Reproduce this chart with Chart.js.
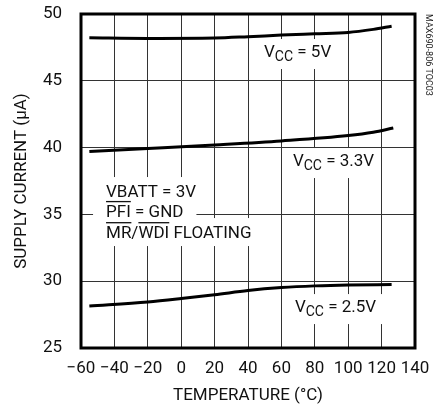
<!DOCTYPE html>
<html>
<head>
<meta charset="utf-8">
<script src="https://cdn.jsdelivr.net/npm/chart.js@4"></script>
<style>
  html, body { margin: 0; padding: 0; background: #fff; }
</style>
</head>
<body>
<canvas id="chart" width="438" height="412"></canvas>
<script>
// temperature (°C) / supply current (µA)
const temps5 = [-55, -20, 20, 40, 60, 80, 100, 115, 126];
const vcc5 = [48.22, 48.17, 48.2, 48.3, 48.42, 48.52, 48.62, 48.85, 49.08];

const temps33 = [-55, -20, 20, 60, 100, 115, 127];
const vcc33 = [39.7, 39.93, 40.2, 40.5, 40.9, 41.15, 41.47];

const temps25 = [-55, -20, 0, 20, 40, 60, 80, 100, 126];
const vcc25 = [28.15, 28.45, 28.7, 28.98, 29.3, 29.52, 29.65, 29.72, 29.75];

const xTicks = [-60, -40, -20, 0, 20, 40, 60, 80, 100, 120, 140];
const yTicks = [25, 30, 35, 40, 45, 50];

// curve labels: "V" + subscript "CC" + rest
const vccLabels = [
  { t: 49.6, v: 46.78, rest: " = 5V" },
  { t: 66.9, v: 38.62, rest: " = 3.3V" },
  { t: 68.1, v: 27.69, rest: " = 2.5V" },
];

// test conditions, [text, overlined]
const noteLines = [
  { v: 36.3, parts: [["VBATT = 3V", false]] },
  { v: 34.81, parts: [["PFI", true], [" = GND", false]] },
  { v: 33.23, parts: [["MR", true], ["/", false], ["WDI", true], [" FLOATING", false]] },
];
const noteT = -45;

const toPoints = (xs, ys) => xs.map((x, i) => ({ x: x, y: ys[i] }));

Chart.defaults.font.family = "Roboto";
Chart.defaults.font.size = 17;
Chart.defaults.color = "#111";

const FONT = "17px Roboto";
const SUB = "14px Roboto";

const textPlugin = {
  id: "texts",
  beforeDatasetsDraw(chart) {
    const ctx = chart.ctx;
    const xs = chart.scales.x, ys = chart.scales.y;
    ctx.save();
    ctx.textBaseline = "alphabetic";
    ctx.textAlign = "left";

    // VCC labels, white box knocks out the grid
    vccLabels.forEach((l) => {
      const x = xs.getPixelForValue(l.t);
      const y = ys.getPixelForValue(l.v);
      ctx.font = FONT;
      const wV = ctx.measureText("V").width;
      const wR = ctx.measureText(l.rest).width;
      ctx.font = SUB;
      const wC = ctx.measureText("CC").width;
      const w = wV + wC + wR;
      ctx.fillStyle = "#fff";
      ctx.fillRect(x - 6, y - 18, w + 12, 30);
      ctx.fillStyle = "#111";
      ctx.font = FONT;
      ctx.fillText("V", x, y);
      ctx.font = SUB;
      ctx.fillText("CC", x + wV, y + 3.5);
      ctx.font = FONT;
      ctx.fillText(l.rest, x + wV + wC, y);
    });

    // conditions block
    const x0 = xs.getPixelForValue(noteT);
    ctx.font = FONT;
    noteLines.forEach((line) => {
      const y = ys.getPixelForValue(line.v);
      const w = line.parts.reduce((s, p) => s + ctx.measureText(p[0]).width, 0);
      ctx.fillStyle = "#fff";
      ctx.fillRect(x0 - 13, y - 20, w + 26, 28);
    });
    noteLines.forEach((line) => {
      const y = ys.getPixelForValue(line.v);
      let x = x0;
      line.parts.forEach((p) => {
        const w = ctx.measureText(p[0]).width;
        ctx.fillStyle = "#111";
        ctx.fillText(p[0], x, y);
        if (p[1]) {
          ctx.fillRect(x, y - 16, w, 1.3);
        }
        x += w;
      });
    });
    ctx.restore();
  },
  afterDraw(chart) {
    const ctx = chart.ctx;
    const a = chart.chartArea;
    ctx.save();
    ctx.strokeStyle = "#000";
    ctx.lineWidth = 3;
    ctx.strokeRect(a.left, a.top, a.right - a.left, a.bottom - a.top);

    // figure code on the right edge
    ctx.translate(428, 14);
    ctx.rotate(Math.PI / 2);
    ctx.font = "9px Roboto";
    ctx.fillStyle = "#222";
    ctx.textBaseline = "middle";
    ctx.textAlign = "left";
    ctx.fillText("MAX690-806 TOC03", 0, 0);
    ctx.restore();
  },
};

const lineStyle = {
  borderColor: "#000",
  borderWidth: 3,
  pointRadius: 0,
  cubicInterpolationMode: "monotone",
  fill: false,
};

new Chart(document.getElementById("chart").getContext("2d"), {
  type: "line",
  data: {
    datasets: [
      { label: "VCC = 5V", data: toPoints(temps5, vcc5), ...lineStyle },
      { label: "VCC = 3.3V", data: toPoints(temps33, vcc33), ...lineStyle },
      { label: "VCC = 2.5V", data: toPoints(temps25, vcc25), ...lineStyle },
    ],
  },
  options: {
    responsive: false,
    animation: false,
    devicePixelRatio: 1,
    layout: { padding: { top: 14, right: 23, left: 0, bottom: 0 } },
    plugins: {
      legend: { display: false },
      tooltip: { enabled: false },
    },
    scales: {
      x: {
        type: "linear",
        min: xTicks[0],
        max: xTicks[xTicks.length - 1],
        afterBuildTicks: (s) => { s.ticks = xTicks.map((v) => ({ value: v })); },
        // fixed axis size, no extra label overhang padding
        afterFit: (s) => { s.height = 64; s.paddingLeft = 0; s.paddingRight = 0; },
        ticks: {
          padding: 11,
          color: "#111",
          maxRotation: 0,
          autoSkip: false,
          callback: (v) => String(v).replace("-", "\u2212"),
        },
        grid: { color: "#333", lineWidth: 1, drawTicks: false },
        border: { display: false },
        title: {
          display: true,
          text: "TEMPERATURE (°C)",
          color: "#111",
          padding: { top: 0, bottom: 6 },
        },
      },
      y: {
        min: yTicks[0],
        max: yTicks[yTicks.length - 1],
        afterBuildTicks: (s) => { s.ticks = yTicks.map((v) => ({ value: v })); },
        afterFit: (s) => { s.width = 81; s.paddingTop = 0; s.paddingBottom = 0; },
        ticks: { padding: 19, color: "#111" },
        grid: { color: "#333", lineWidth: 1, drawTicks: false },
        border: { display: false },
        title: {
          display: true,
          text: "SUPPLY CURRENT (µA)",
          color: "#111",
          padding: { top: 12, bottom: 0 },
        },
      },
    },
  },
  plugins: [textPlugin],
});
</script>
</body>
</html>
